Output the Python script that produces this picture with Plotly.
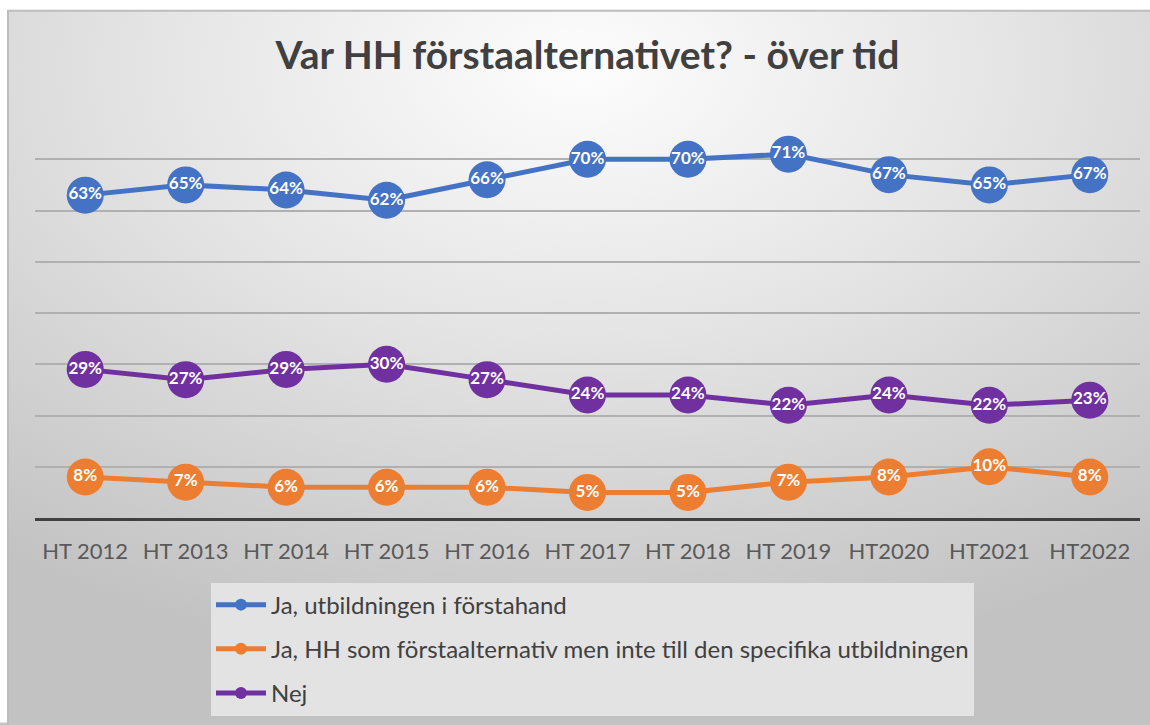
import base64
import plotly.graph_objects as go

categories = ["HT 2012", "HT 2013", "HT 2014", "HT 2015", "HT 2016", "HT 2017",
              "HT 2018", "HT 2019", "HT2020", "HT2021", "HT2022"]
ja_forstahand = [63, 65, 64, 62, 66, 70, 70, 71, 67, 65, 67]
ja_hh_ej_utb = [8, 7, 6, 6, 6, 5, 5, 7, 8, 10, 8]
nej = [29, 27, 29, 30, 27, 24, 24, 22, 24, 22, 23]

series = [
    ("Ja, utbildningen i förstahand", ja_forstahand, "#4472C4"),
    ("Ja, HH som förstaalternativ men inte till den specifika utbildningen", ja_hh_ej_utb, "#ED7D31"),
    ("Nej", nej, "#7030A0"),
]

FONT = "Lato"
fig = go.Figure()

for i, (name, vals, col) in enumerate(series):
    fig.add_trace(go.Scatter(
        x=categories, y=vals, name=name, mode="lines+markers",
        line=dict(color=col, width=5),
        marker=dict(color=col, size=37),
        legendgroup=f"g{i}", cliponaxis=False,
    ))
for i, (name, vals, col) in enumerate(series):
    fig.add_trace(go.Scatter(
        x=categories, y=vals, mode="text", showlegend=False,
        text=[f"{v}%" for v in vals], textposition="middle center",
        textfont=dict(color="white", size=17, family=FONT, weight="bold"),
        cliponaxis=False, hoverinfo="skip",
    ))

svg = ("<svg xmlns='http://www.w3.org/2000/svg' viewBox='0 0 100 100' preserveAspectRatio='none'>"
       "<defs><radialGradient id='g' cx='50%' cy='8%' r='85%'>"
       "<stop offset='0' stop-color='#fdfdfd'/><stop offset='0.45' stop-color='#e4e4e4'/>"
       "<stop offset='1' stop-color='#c2c2c2'/></radialGradient></defs>"
       "<rect width='100' height='100' fill='url(#g)'/></svg>")
src = "data:image/svg+xml;base64," + base64.b64encode(svg.encode()).decode()

W, H = 1150, 725
L, R, T, B = 35, 10, 108, 204
pw, ph = W - L - R, H - T - B


def px(x):
    return (x - L) / pw


def py(y):
    return (H - B - y) / ph


fig.update_layout(
    width=W, height=H,
    margin=dict(l=L, r=R, t=T, b=B),
    paper_bgcolor="#c6c6c6",
    plot_bgcolor="rgba(0,0,0,0)",
    images=[dict(source=src, xref="paper", yref="paper", x=px(8), y=py(10),
                 sizex=px(W + 4) - px(8), sizey=py(10) - py(H + 4), sizing="stretch",
                 xanchor="left", yanchor="top", layer="below")],
    shapes=[
        dict(type="rect", xref="paper", yref="paper", x0=px(-2), x1=px(W + 2),
             y0=py(10), y1=py(-2), fillcolor="white", line=dict(width=0), layer="below"),
        dict(type="rect", xref="paper", yref="paper", x0=px(-2), x1=px(8),
             y0=py(H + 2), y1=py(-2), fillcolor="white", line=dict(width=0), layer="below"),
        dict(type="rect", xref="paper", yref="paper", x0=px(8), x1=px(W + 10),
             y0=py(H + 10), y1=py(10), line=dict(color="#bdbdbd", width=2), layer="below"),
    ],
    title=dict(text="<b>Var HH förstaalternativet? - över tid</b>", x=0.5, xref="paper",
               xanchor="center", y=1 - 55 / H, yanchor="middle",
               font=dict(family=FONT, size=39, color="#404040")),
    font=dict(family=FONT, color="#595959"),
    showlegend=True,
    legend=dict(orientation="v", x=px(211), xanchor="left",
                y=py(586), yanchor="top",
                bgcolor="#e3e3e3", font=dict(size=24, color="#404040", family=FONT),
                tracegroupgap=10, itemsizing="constant", itemwidth=50),
    xaxis=dict(type="category", range=[-0.5, 10.5], showgrid=False,
               showline=True, linecolor="#404040", linewidth=3,
               ticks="outside", ticklen=12, tickcolor="rgba(0,0,0,0)",
               tickfont=dict(size=22, color="#595959", family=FONT), fixedrange=True),
    yaxis=dict(range=[0, 80], dtick=10, showticklabels=False, gridcolor="#b0b0b0",
               gridwidth=2, zeroline=False, showline=False, fixedrange=True),
)

fig.write_html("out.html", config={"displayModeBar": False},
               post_script="document.body.style.margin='0';document.body.style.overflow='hidden';")
